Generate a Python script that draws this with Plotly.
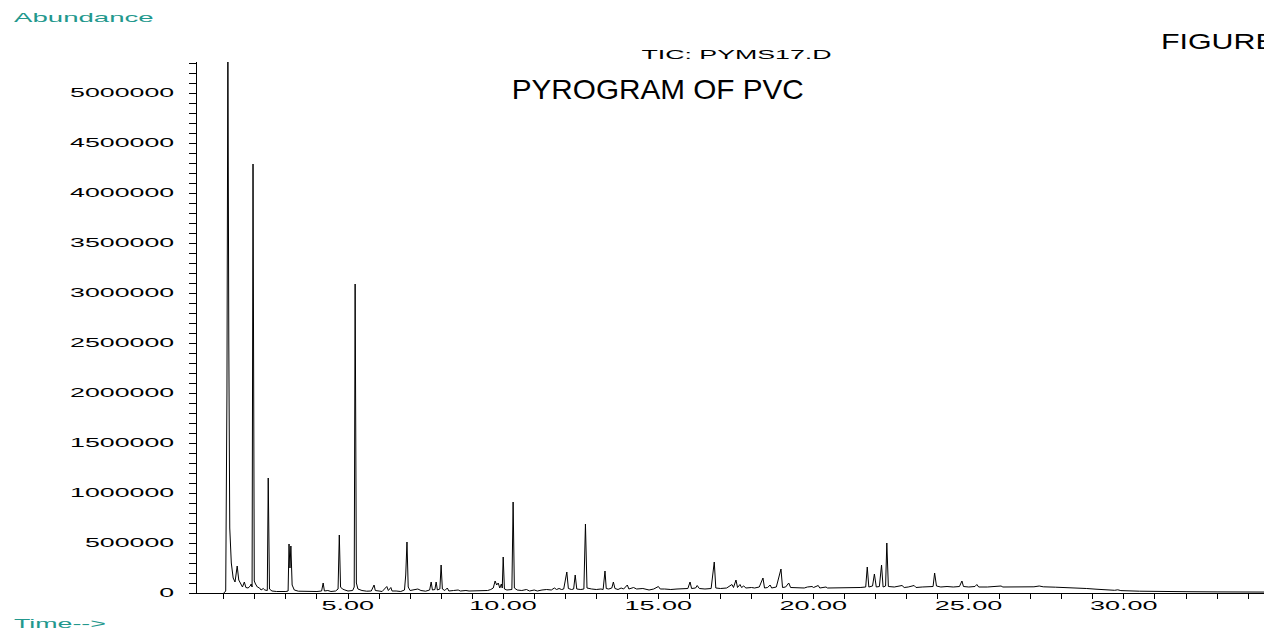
import plotly.graph_objects as go

# Retention time (min) of each read point of the TIC trace
time_min = [
    1.00, 1.06, 1.10, 1.13, 1.16, 1.19, 1.24, 1.30, 1.36, 1.43, 1.48, 1.55, 1.60, 1.66, 1.71, 1.78,
    1.85, 1.88, 1.91, 1.94, 1.98, 2.02, 2.08, 2.15, 2.20, 2.27, 2.32, 2.40, 2.43, 2.47, 2.55, 2.70,
    2.85, 3.00, 3.07, 3.10, 3.13, 3.16, 3.20, 3.27, 3.40, 3.60, 3.80, 4.00, 4.15, 4.20, 4.24, 4.35,
    4.45, 4.60, 4.68, 4.72, 4.76, 4.82, 4.90, 5.00, 5.15, 5.20, 5.23, 5.27, 5.32, 5.45, 5.60, 5.75,
    5.84, 5.88, 6.00, 6.10, 6.25, 6.30, 6.38, 6.42, 6.55, 6.70, 6.82, 6.86, 6.90, 6.94, 7.00, 7.15,
    7.25, 7.35, 7.50, 7.63, 7.68, 7.72, 7.80, 7.84, 7.88, 7.96, 8.00, 8.04, 8.12, 8.20, 8.25, 8.40,
    8.55, 8.62, 8.80, 8.90, 9.10, 9.30, 9.50, 9.60, 9.68, 9.74, 9.79, 9.84, 9.89, 9.94, 9.97, 10.00,
    10.04, 10.12, 10.20, 10.28, 10.32, 10.36, 10.45, 10.60, 10.75, 10.85, 11.00, 11.10, 11.25, 11.40,
    11.55, 11.65, 11.72, 11.80, 11.88, 11.95, 12.05, 12.10, 12.20, 12.27, 12.32, 12.37, 12.50, 12.60,
    12.65, 12.70, 12.85, 13.00, 13.15, 13.22, 13.28, 13.32, 13.40, 13.50, 13.55, 13.60, 13.70, 13.80,
    13.88, 14.00, 14.05, 14.20, 14.30, 14.50, 14.70, 14.85, 15.00, 15.06, 15.20, 15.40, 15.60, 15.80,
    15.95, 16.02, 16.07, 16.20, 16.25, 16.32, 16.50, 16.70, 16.80, 16.85, 17.00, 17.20, 17.37, 17.42,
    17.50, 17.55, 17.63, 17.68, 17.75, 17.82, 18.00, 18.10, 18.25, 18.37, 18.42, 18.52, 18.60, 18.65,
    18.80, 18.95, 19.00, 19.10, 19.20, 19.26, 19.45, 19.70, 19.80, 19.95, 20.00, 20.15, 20.20, 20.40,
    20.45, 20.70, 21.00, 21.30, 21.50, 21.68, 21.73, 21.78, 21.90, 21.96, 22.02, 22.12, 22.19, 22.24,
    22.32, 22.36, 22.41, 22.60, 22.85, 22.92, 23.05, 23.24, 23.30, 23.50, 23.70, 23.85, 23.90, 23.96,
    24.10, 24.30, 24.50, 24.70, 24.78, 24.83, 25.00, 25.20, 25.26, 25.32, 25.60, 25.80, 26.04, 26.10,
    26.50, 26.80, 27.10, 27.27, 27.40, 27.80, 28.20, 28.50, 28.80, 29.10, 29.50, 29.70, 29.80, 29.90,
    30.50, 31.00, 31.50, 32.00, 33.00, 34.00, 34.80,
]

# Abundance read at each of those times
abundance = [
    0, 20000, 2000000, 5600000, 2500000, 650000, 300000, 150000, 110000, 270000, 130000, 80000, 60000, 110000, 55000, 50000,
    70000, 90000, 60000, 4290000, 120000, 90000, 60000, 50000, 30000, 45000, 30000, 25000, 1150000, 40000, 20000, 15000,
    12000, 15000, 20000, 490000, 250000, 470000, 80000, 30000, 18000, 15000, 12000, 15000, 20000, 100000, 20000, 25000,
    15000, 20000, 40000, 580000, 60000, 40000, 30000, 20000, 25000, 60000, 3090000, 100000, 40000, 25000, 18000, 20000,
    80000, 25000, 20000, 15000, 65000, 25000, 55000, 20000, 20000, 15000, 30000, 180000, 510000, 60000, 25000, 30000,
    40000, 25000, 18000, 30000, 110000, 30000, 35000, 110000, 30000, 40000, 280000, 40000, 25000, 50000, 20000, 25000,
    30000, 20000, 25000, 20000, 20000, 25000, 25000, 35000, 50000, 120000, 80000, 100000, 50000, 90000, 50000, 360000,
    40000, 30000, 30000, 35000, 910000, 50000, 30000, 25000, 35000, 20000, 30000, 20000, 30000, 35000,
    30000, 50000, 35000, 45000, 35000, 40000, 210000, 45000, 35000, 40000, 180000, 40000, 35000, 40000,
    690000, 50000, 40000, 35000, 40000, 35000, 220000, 45000, 40000, 50000, 110000, 45000, 35000, 50000,
    40000, 80000, 40000, 55000, 40000, 45000, 30000, 40000, 65000, 40000, 40000, 35000, 40000, 40000,
    45000, 110000, 45000, 50000, 75000, 45000, 40000, 45000, 310000, 50000, 45000, 50000, 85000, 55000,
    130000, 55000, 85000, 55000, 70000, 50000, 55000, 50000, 60000, 150000, 50000, 55000, 80000, 50000,
    60000, 240000, 55000, 60000, 100000, 55000, 50000, 50000, 60000, 65000, 55000, 75000, 50000, 60000,
    50000, 50000, 50000, 55000, 55000, 60000, 260000, 60000, 70000, 190000, 60000, 65000, 280000, 60000,
    70000, 500000, 65000, 60000, 75000, 55000, 60000, 75000, 55000, 60000, 60000, 65000, 200000, 70000,
    60000, 65000, 60000, 65000, 120000, 65000, 60000, 65000, 85000, 60000, 60000, 62000, 70000, 60000,
    62000, 60000, 62000, 70000, 62000, 58000, 55000, 50000, 45000, 38000, 30000, 27000, 32000, 24000,
    18000, 15000, 14000, 13000, 11000, 10000, 9000,
]

x_tick_vals = [5, 10, 15, 20, 25, 30]
x_tick_text = ["5.00", "10.00", "15.00", "20.00", "25.00", "30.00"]
y_tick_vals = [0, 500000, 1000000, 1500000, 2000000, 2500000, 3000000, 3500000, 4000000, 4500000, 5000000]
y_tick_text = ["0", "500000", "1000000", "1500000", "2000000", "2500000", "3000000",
               "3500000", "4000000", "4500000", "5000000"]

chart_title = "PYROGRAM OF PVC"
trace_label = "TIC: PYMS17.D"
y_label = "Abundance"
x_label = "Time-->"
corner_label = "FIGURE"

TEAL = "#23988d"
FONT = "Liberation Sans, Arial, sans-serif"

fig = go.Figure()
fig.add_trace(go.Scatter(
    x=time_min, y=abundance, mode="lines",
    line=dict(color="black", width=1),
    hoverinfo="skip", showlegend=False,
))

# The page body adds an 8px offset; target screen pixels are converted to figure pixels.
OFF = 8
FW, FH = 1272, 631
# plot area on screen: x 197..1272, y 62..593
L, R, T, B = 197 - OFF, 1272 - OFF, 62 - OFF, 593 - OFF
W, H = R - L, B - T
def px(xs):
    return (xs - OFF - L) / W
def py(ys):
    return (B - (ys - OFF)) / H

annotations = [
    dict(text=y_label, x=px(12), y=py(18), xanchor="left", yanchor="middle",
         font=dict(family=FONT, size=12, color=TEAL)),
    dict(text=x_label, x=px(12), y=py(624), xanchor="left", yanchor="middle",
         font=dict(family=FONT, size=12, color=TEAL)),
    dict(text=trace_label, x=px(737), y=py(55), xanchor="center", yanchor="middle",
         font=dict(family=FONT, size=12, color="black")),
    dict(text=chart_title, x=px(658), y=py(90), xanchor="center", yanchor="middle",
         font=dict(family=FONT, size=27, color="black")),
    dict(text=corner_label, x=px(1159), y=py(41), xanchor="left", yanchor="middle",
         font=dict(family=FONT, size=22, color="black")),
]
for a in annotations:
    a.update(xref="paper", yref="paper", showarrow=False)

fig.update_layout(
    width=FW, height=FH, autosize=False,
    margin=dict(l=L, r=FW - R, t=T, b=FH - B, pad=0),
    paper_bgcolor="white", plot_bgcolor="white",
    annotations=annotations,
    showlegend=False,
)
fig.update_xaxes(
    range=[0.135, 34.77], showgrid=False, zeroline=False,
    showline=True, linecolor="black", linewidth=1,
    tickmode="array", tickvals=x_tick_vals, ticktext=x_tick_text,
    ticks="outside", ticklen=5, tickcolor="black", tickwidth=1,
    minor=dict(dtick=1, tick0=0, ticks="outside", ticklen=5, tickcolor="black", tickwidth=1),
    tickfont=dict(family=FONT, size=12, color="black"),
    ticklabelstandoff=-3,
)
fig.update_yaxes(
    range=[0, 5310000], showgrid=False, zeroline=False,
    showline=True, linecolor="black", linewidth=1,
    tickmode="array", tickvals=y_tick_vals, ticktext=y_tick_text,
    ticks="outside", ticklen=7, tickcolor="black", tickwidth=1,
    minor=dict(dtick=100000, tick0=0, ticks="outside", ticklen=7, tickcolor="black", tickwidth=1),
    tickfont=dict(family=FONT, size=12, color="black"),
    ticklabelstandoff=12,
)

# The reference text is horizontally stretched; widen the rendered labels to match.
post = r"""
var gd = document.querySelector('.js-plotly-plot');
var ANN = {"Abundance":[2.3,'start'], "Time-->":[2.23,'start'], "TIC: PYMS17.D":[2.23,'middle'],
           "FIGURE":[1.38,'start'], "PYROGRAM OF PVC":[1.1,'middle']};
function st(t, s, a){
  var cur = t.getAttribute('transform') || '';
  if (t.__done && t.__done === cur) return;
  var b = t.getBBox();
  var cx = a === 'end' ? b.x + b.width : (a === 'start' ? b.x : b.x + b.width / 2);
  var nt = cur + ' translate(' + cx + ',0) scale(' + s + ',1) translate(' + (-cx) + ',0)';
  t.setAttribute('transform', nt);
  t.__done = nt;
}
function run(){
  gd.querySelectorAll('g.ytick text').forEach(function(t){ st(t, 2.23, 'end'); });
  gd.querySelectorAll('g.xtick text').forEach(function(t){ st(t, 2.25, 'middle'); });
  gd.querySelectorAll('text.annotation-text').forEach(function(t){
    var k = ANN[t.textContent]; if (k) st(t, k[0], k[1]);
  });
}
run();
gd.on('plotly_afterplot', run);
"""

fig.write_html("out.html", post_script=post)
